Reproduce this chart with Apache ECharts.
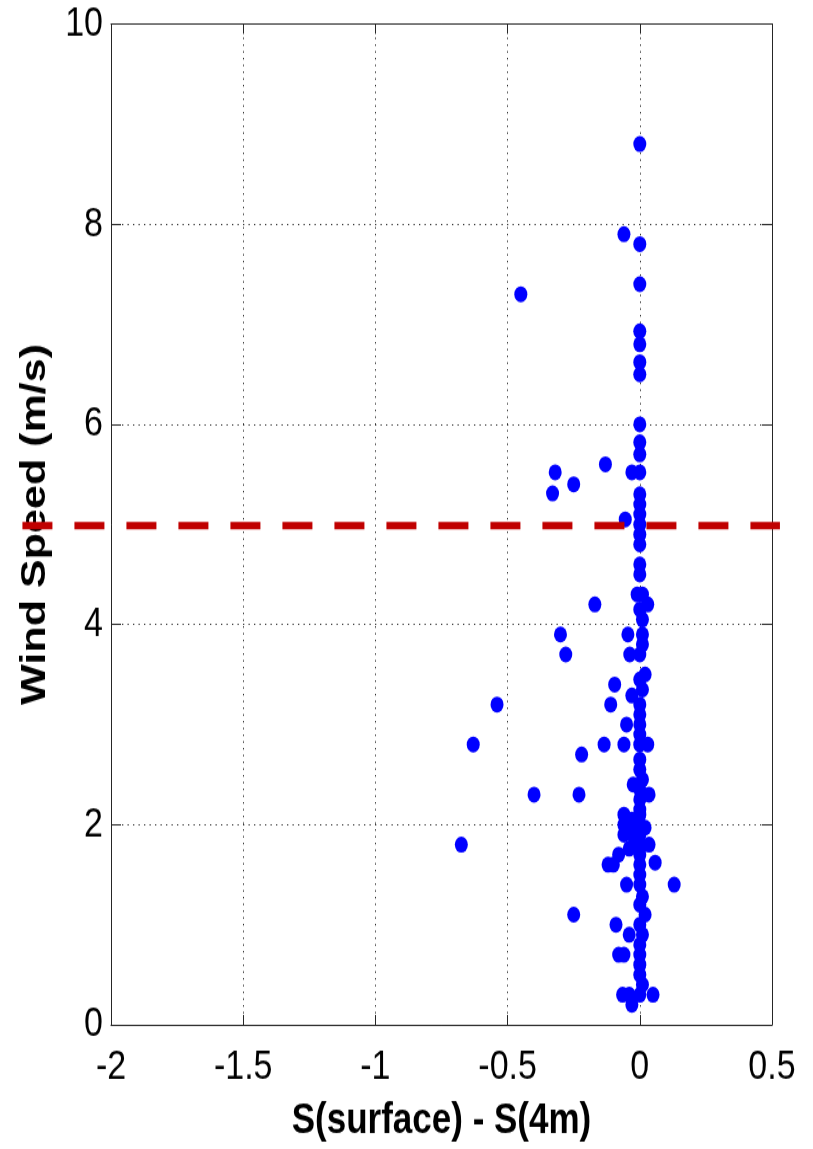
<!DOCTYPE html>
<html>
<head>
<meta charset="utf-8">
<script src="https://cdn.jsdelivr.net/npm/echarts@6/dist/echarts.min.js"></script>
<style>
  html, body { margin: 0; padding: 0; background: #ffffff; }
  body { width: 813px; height: 1149px; overflow: hidden; position: relative; }
  #chart { position: absolute; left: 0; top: 0; width: 813px; height: 934px; transform: scaleY(1.23019); transform-origin: 0 0; }
</style>
</head>
<body>
<div id="chart"></div>
<script>
// ---- data ----
const xTicks = [-2, -1.5, -1, -0.5, 0, 0.5];
const yTicks = [0, 2, 4, 6, 8, 10];
const xTitle = 'S(surface) - S(4m)';
const yTitle = 'Wind Speed (m/s)';

// S(surface) - S(4m) for each observation
const salinityDiff = [
  0.00, -0.06, 0.00, 0.00, -0.45, 0.00, 0.00, 0.00, 0.00, 0.00,
  0.00, 0.00, -0.13, -0.32, -0.25, -0.33, -0.03, 0.00, 0.00, 0.00,
  0.00, -0.055, 0.00, 0.00, 0.00, 0.00, 0.00, -0.01, 0.01, 0.03,
  -0.17, 0.00, 0.01, -0.30, -0.045, 0.01, 0.01, -0.28, -0.038, 0.00,
  0.02, 0.00, -0.095, 0.01, -0.03, 0.00, -0.54, -0.11, 0.00, -0.05,
  0.00, 0.00, -0.63, -0.135, -0.06, 0.03, 0.00, -0.22, 0.00, 0.00,
  0.01, -0.025, 0.00, -0.40, -0.23, 0.035, 0.00, 0.00, -0.06, 0.00,
  -0.03, -0.06, -0.02, 0.00, 0.02, -0.04, -0.06, 0.00, -0.02, -0.675,
  0.035, 0.00, -0.04, -0.08, 0.00, -0.12, -0.10, 0.058, 0.00, 0.00,
  -0.05, 0.00, 0.13, 0.01, 0.00, -0.25, 0.02, -0.09, 0.00, -0.04,
  0.01, 0.00, -0.08, -0.06, 0.00, 0.00, 0.00, 0.01, -0.065, -0.04,
  0.00, 0.05, -0.03
];
// wind speed (m/s) for each observation
const windSpeed = [
  8.8, 7.9, 7.8, 7.4, 7.3, 6.93, 6.8, 6.62, 6.5, 6.0,
  5.82, 5.7, 5.6, 5.52, 5.4, 5.31, 5.52, 5.52, 5.3, 5.2,
  5.1, 5.05, 5.0, 4.9, 4.8, 4.6, 4.5, 4.3, 4.3, 4.2,
  4.2, 4.15, 4.05, 3.9, 3.9, 3.9, 3.8, 3.7, 3.7, 3.7,
  3.5, 3.45, 3.4, 3.35, 3.29, 3.2, 3.2, 3.2, 3.1, 3.0,
  3.0, 2.9, 2.8, 2.8, 2.8, 2.8, 2.8, 2.7, 2.65, 2.55,
  2.45, 2.4, 2.35, 2.3, 2.3, 2.3, 2.25, 2.15, 2.1, 2.1,
  2.05, 2.0, 2.0, 2.0, 1.97, 1.95, 1.9, 1.9, 1.85, 1.8,
  1.8, 1.8, 1.76, 1.7, 1.7, 1.6, 1.6, 1.62, 1.6, 1.5,
  1.4, 1.4, 1.4, 1.28, 1.2, 1.1, 1.1, 1.0, 1.0, 0.9,
  0.9, 0.8, 0.7, 0.7, 0.7, 0.6, 0.5, 0.4, 0.3, 0.3,
  0.3, 0.3, 0.2
];
// threshold line at 5 m/s (drawn beyond the axes, as in the reference)
const thresholdX = [-2.335, 0.53];
const thresholdY = [5, 5];

// ---- chart ----
const points = salinityDiff.map((x, i) => [x, windSpeed[i]]);
const thresholdLine = thresholdX.map((x, i) => [x, thresholdY[i]]);

const axisColor = '#262626';
const font = 'Liberation Sans';
const dotted = { show: true, lineStyle: { color: '#333333', width: 1, type: [1.3, 4.2] } };
const gridTop = 19.5, gridBottom = 99.2;
// the overlay grid spans the threshold line's own x extent with the same px/unit
const pxPerUnit = (813 - 41 - 111) / (xTicks[xTicks.length - 1] - xTicks[0]);
const overlayLeft = 111 + (thresholdX[0] - xTicks[0]) * pxPerUnit;
const overlayRight = 41 - (thresholdX[1] - xTicks[xTicks.length - 1]) * pxPerUnit;

const chart = echarts.init(document.getElementById('chart'), null, { renderer: 'canvas' });
chart.setOption({
  animation: false,
  backgroundColor: '#ffffff',
  grid: [
    { left: 111, right: 41, top: gridTop, bottom: gridBottom, containLabel: false },
    { left: overlayLeft, right: overlayRight, top: gridTop, bottom: gridBottom, containLabel: false }
  ],
  xAxis: [
    {
      type: 'value', position: 'bottom', gridIndex: 0,
      min: xTicks[0], max: xTicks[xTicks.length - 1], interval: 0.5,
      name: xTitle, nameLocation: 'middle', nameGap: 61,
      nameTextStyle: { fontFamily: font, fontSize: 35, fontWeight: 'bold', color: '#000' },
      axisLine: { show: true, onZero: false, lineStyle: { color: axisColor, width: 1 } },
      axisTick: { show: true, inside: true, length: 8, lineStyle: { color: axisColor } },
      axisLabel: { fontFamily: font, fontSize: 34, color: '#000', margin: 18 },
      splitLine: dotted
    },
    {
      type: 'value', position: 'top', gridIndex: 0,
      min: xTicks[0], max: xTicks[xTicks.length - 1], interval: 0.5,
      axisLine: { show: true, onZero: false, lineStyle: { color: axisColor, width: 1 } },
      axisTick: { show: true, inside: true, length: 8, lineStyle: { color: axisColor } },
      axisLabel: { show: false },
      splitLine: { show: false }
    },
    {
      type: 'value', gridIndex: 1,
      min: thresholdX[0], max: thresholdX[1],
      show: false
    }
  ],
  yAxis: [
    {
      type: 'value', position: 'left', gridIndex: 0,
      min: yTicks[0], max: yTicks[yTicks.length - 1], interval: 2,
      name: yTitle, nameLocation: 'middle', nameGap: 58,
      nameTextStyle: { fontFamily: font, fontSize: 35, fontWeight: 'bold', color: '#000' },
      axisLine: { show: true, onZero: false, lineStyle: { color: axisColor, width: 1 } },
      axisTick: { show: true, inside: true, length: 10, lineStyle: { color: axisColor } },
      axisLabel: { fontFamily: font, fontSize: 34, color: '#000', margin: 8 },
      splitLine: dotted
    },
    {
      type: 'value', position: 'right', gridIndex: 0,
      min: yTicks[0], max: yTicks[yTicks.length - 1], interval: 2,
      axisLine: { show: true, onZero: false, lineStyle: { color: axisColor, width: 1 } },
      axisTick: { show: true, inside: true, length: 10, lineStyle: { color: axisColor } },
      axisLabel: { show: false },
      splitLine: { show: false }
    },
    {
      type: 'value', gridIndex: 1,
      min: yTicks[0], max: yTicks[yTicks.length - 1],
      show: false
    }
  ],
  series: [
    {
      type: 'scatter',
      xAxisIndex: 0, yAxisIndex: 0,
      data: points,
      symbol: 'circle',
      symbolSize: 13,
      itemStyle: { color: '#0000ff', opacity: 1 },
      z: 3
    },
    {
      type: 'line',
      xAxisIndex: 2, yAxisIndex: 2,
      data: thresholdLine,
      showSymbol: false,
      symbol: 'none',
      lineStyle: { color: '#c00000', width: 6, type: [30, 22], dashOffset: 0, cap: 'butt' },
      z: 4
    }
  ]
});
</script>
</body>
</html>
